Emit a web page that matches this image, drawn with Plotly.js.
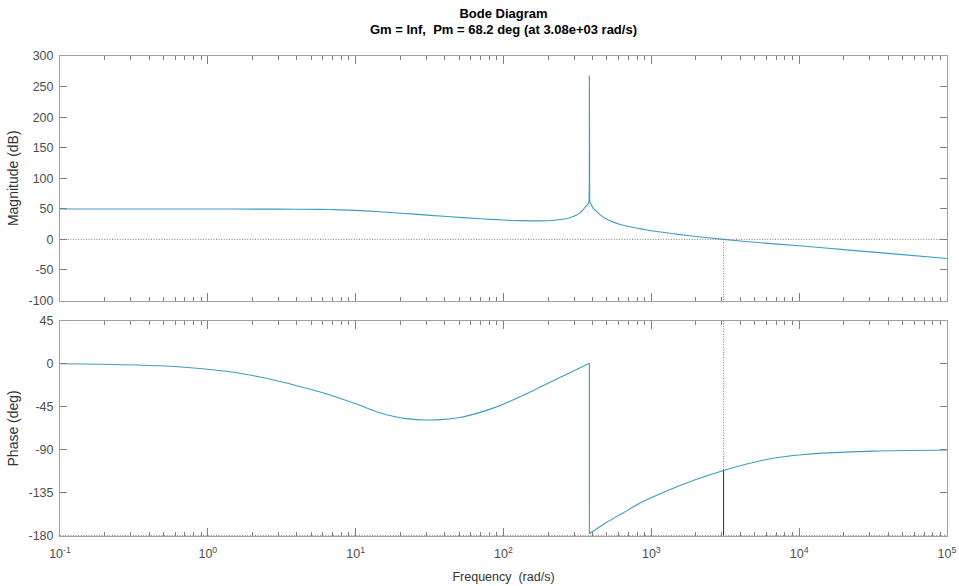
<!DOCTYPE html>
<html>
<head>
<meta charset="utf-8">
<script src="https://cdn.plot.ly/plotly-3.0.1.min.js"></script>
<style>html,body{margin:0;padding:0;background:#fff}#chart{width:959px;height:586px}</style>
</head>
<body>
<div id="chart"></div>
<script>
// ---- data ----
const magFreq = [0.1, 1, 3, 5.7, 8, 10, 14.6, 25, 41.5, 70, 100, 130, 177, 215, 250, 280, 310, 335, 349, 365, 375, 379, 380.6, 381, 381.4, 383, 388, 404, 451, 500, 615, 800, 1000, 1567, 2000, 3080, 5000, 10000, 20000, 50000, 100000];
const magDb   = [49.8, 49.7, 49.5, 49.1, 48.3, 47.4, 45.2, 41.3, 37.4, 33.7, 31.6, 30.7, 30.3, 31, 32.8, 35.5, 39.5, 45, 50, 55, 59, 63, 90, 268, 90, 63, 59, 51, 40, 33, 24.5, 18.5, 14, 7.8, 4.8, 0, -4.7, -10.5, -16.8, -25, -31.3];
const phaseFreq = [0.1, 0.2, 0.475, 0.885, 1.5, 2.25, 4, 6.4, 10, 14, 17.9, 22, 30.4, 40, 50.8, 65, 85, 110, 144, 177, 242, 300, 380.9, 381.1, 500, 647, 839, 1100, 1406, 2000, 3080, 4500, 6670, 10000, 14500, 31600, 100000];
const phaseDeg  = [0, -0.5, -2.2, -5, -9, -14, -23, -31.7, -42, -50.5, -55, -57.5, -59, -58.3, -56.3, -52.3, -46.5, -39.5, -31.3, -24.5, -14.3, -7.3, 0.5, -178, -166, -156, -145.8, -137.5, -130.5, -121.3, -111.8, -104.8, -99, -95.6, -93.6, -91.5, -90.4];
const crossFreq = 3080;      // gain crossover (rad/s)
const crossPhase = -111.8;   // phase at crossover (deg)
const magTicks = [-100, -50, 0, 50, 100, 150, 200, 250, 300];
const phaseTicks = [-180, -135, -90, -45, 0, 45];
const xTickVals = [0.1, 1, 10, 100, 1000, 10000, 100000];
const xTickText = ['10<sup>-1</sup>', '10<sup>0</sup>', '10<sup>1</sup>', '10<sup>2</sup>', '10<sup>3</sup>', '10<sup>4</sup>', '10<sup>5</sup>'];

// ---- styling ----
const curveColor = 'rgb(62,156,196)';
const refColor = '#7a7a7a';
const refDash = '1px,1.6px';
const font = 'Liberation Sans, Arial, Helvetica, sans-serif';

// minor tick positions 2..9 x 10^k
const minorVals = [];
for (let k = -1; k < 5; k++) for (let m = 2; m <= 9; m++) minorVals.push(m * Math.pow(10, k));

function seg(xs, ys, a, b) { return {x: xs.slice(a, b), y: ys.slice(a, b)}; }
function line(d, xa, ya, shape, color, dash, width) {
  return {type: 'scatter', mode: 'lines', x: d.x, y: d.y, xaxis: xa, yaxis: ya,
    line: {color: color || curveColor, width: width || 1.1, shape: shape || 'linear', dash: dash || 'solid', smoothing: 0.8},
    hoverinfo: 'skip', showlegend: false};
}
const iSpikeA = magFreq.indexOf(349), iSpikeB = magFreq.indexOf(404);
const iJump = phaseFreq.indexOf(380.9);

const traces = [
  line(seg(magFreq, magDb, 0, iSpikeA + 1), 'x', 'y', 'spline'),
  line(seg(magFreq, magDb, iSpikeA, iSpikeB + 1), 'x', 'y', 'linear'),
  line(seg(magFreq, magDb, iSpikeB, magFreq.length), 'x', 'y', 'spline'),
  line(seg(phaseFreq, phaseDeg, 0, iJump + 1), 'x2', 'y2', 'spline'),
  line(seg(phaseFreq, phaseDeg, iJump, iJump + 2), 'x2', 'y2', 'linear'),
  line(seg(phaseFreq, phaseDeg, iJump + 1, phaseFreq.length), 'x2', 'y2', 'spline'),
  // crossover markers
  line({x: [crossFreq, crossFreq], y: [0, -100]}, 'x', 'y', 'linear', refColor, refDash, 1),
  line({x: [crossFreq, crossFreq], y: [45, crossPhase]}, 'x2', 'y2', 'linear', refColor, refDash, 1),
  line({x: [crossFreq, crossFreq], y: [crossPhase, -180]}, 'x2', 'y2', 'linear', '#333333', 'solid', 1)
];

const axCommon = {
  showline: true, linecolor: '#a0a0a0', linewidth: 1, mirror: 'ticks',
  ticks: 'inside', tickcolor: '#808080', tickwidth: 1,
  showgrid: false, zeroline: false,
  tickfont: {family: font, size: 12.5, color: '#4d4d4d'}
};
const xCommon = Object.assign({}, axCommon, {
  type: 'log', range: [-1, 5], tickmode: 'array', tickvals: xTickVals, ticktext: xTickText, ticklen: 8,
  ticklabelstandoff: 6,
  minor: {ticks: 'inside', ticklen: 4, tickcolor: '#808080', tickmode: 'array', tickvals: minorVals, showgrid: false}
});
const yTitleFont = {family: font, size: 14, color: '#333333'};

const layout = {
  width: 959, height: 586,
  paper_bgcolor: '#ffffff', plot_bgcolor: '#ffffff',
  margin: {l: 60, r: 12, t: 56, b: 50},
  font: {family: font, color: '#262626'},
  title: {text: '<b>Bode Diagram</b><br><b>Gm = Inf,\u00a0 Pm = 68.2 deg (at 3.08e+03 rad/s)</b>',
          x: 0.5, xref: 'paper', y: 0.9701, yref: 'container', yanchor: 'top',
          font: {family: font, size: 13, color: '#000000'}},
  xaxis: Object.assign({}, xCommon, {anchor: 'y', showticklabels: false}),
  xaxis2: Object.assign({}, xCommon, {anchor: 'y2', matches: 'x',
    title: {text: 'Frequency\u00a0 (rad/s)', font: {family: font, size: 12.5, color: '#333333'}, standoff: 12}}),
  yaxis: Object.assign({}, axCommon, {domain: [0.4906, 1], range: [-100, 300], tickmode: 'array',
    tickvals: magTicks, ticktext: magTicks.map(String), ticklen: 7,
    ticklabelstandoff: 3,
    title: {text: 'Magnitude (dB)', font: yTitleFont, standoff: 6}}),
  yaxis2: Object.assign({}, axCommon, {domain: [0, 0.4485], range: [-180.4, 45], tickmode: 'array',
    tickvals: phaseTicks, ticktext: phaseTicks.map(String), ticklen: 7,
    ticklabelstandoff: 3,
    title: {text: 'Phase (deg)', font: yTitleFont, standoff: 6}}),
  shapes: [
    {type: 'line', xref: 'x domain', yref: 'y', x0: 0, x1: 1, y0: 0, y1: 0, line: {color: refColor, width: 1, dash: refDash}},
    {type: 'line', xref: 'x2 domain', yref: 'y2', x0: 0, x1: 1, y0: -180, y1: -180, line: {color: refColor, width: 1, dash: refDash}}
  ]
};

Plotly.newPlot('chart', traces, layout, {staticPlot: true, displayModeBar: false});
</script>
</body>
</html>
